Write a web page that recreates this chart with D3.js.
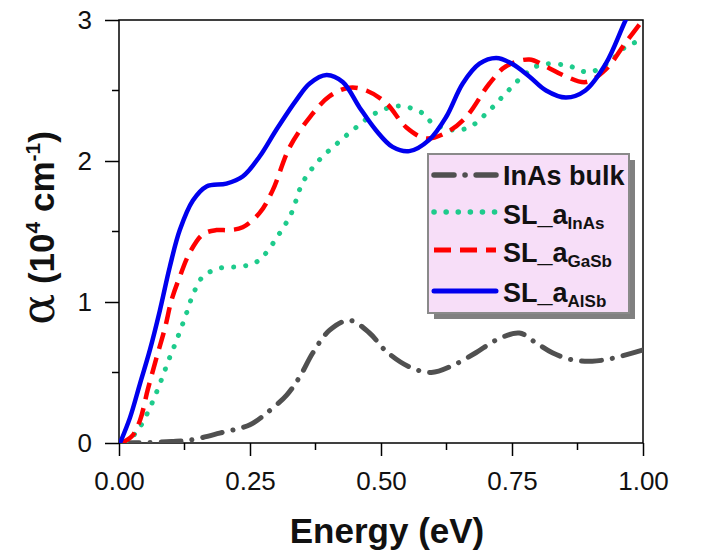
<!DOCTYPE html>
<html><head><meta charset="utf-8">
<script src="https://cdn.jsdelivr.net/npm/d3@7"></script>
<style>body{margin:0;background:#fff}svg{display:block}</style>
</head><body>
<script>
const xTicks = [0, 0.25, 0.5, 0.75, 1.0];
const yTicks = [0, 1, 2, 3];
const seriesNames = ["InAs bulk", "SL_a|InAs", "SL_a|GaSb", "SL_a|AlSb"];

const bulkE = [0,0.05,0.1,0.135,0.192,0.25,0.281,0.32,0.345,0.37,0.402,0.44,0.478,0.51,0.554,0.596,0.637,0.681,0.72,0.764,0.796,0.827,0.865,0.903,0.941,1.0];
const bulkA = [0,0.003,0.01,0.02,0.07,0.13,0.21,0.34,0.47,0.64,0.80,0.87,0.78,0.65,0.54,0.50,0.55,0.64,0.73,0.78,0.71,0.64,0.59,0.58,0.60,0.66];

const inasE = [0.013,0.036,0.059,0.078,0.094,0.11,0.126,0.141,0.16,0.192,0.225,0.255,0.274,0.307,0.329,0.351,0.383,0.415,0.453,0.49,0.535,0.579,0.598,0.637,0.669,0.707,0.738,0.77,0.802,0.853,0.897,0.935,0.967,1.0];
const inasA = [0,0.09,0.25,0.42,0.58,0.73,0.89,1.05,1.18,1.24,1.25,1.27,1.32,1.49,1.63,1.85,2.01,2.12,2.24,2.34,2.39,2.34,2.27,2.22,2.24,2.36,2.48,2.60,2.68,2.68,2.63,2.70,2.81,2.86];

const gasbE = [0.005,0.025,0.04,0.055,0.072,0.088,0.1,0.116,0.135,0.16,0.186,0.211,0.236,0.268,0.293,0.326,0.364,0.402,0.44,0.472,0.51,0.548,0.586,0.624,0.662,0.707,0.738,0.783,0.815,0.853,0.891,0.929,0.967,1.0];
const gasbA = [0,0.05,0.16,0.38,0.61,0.82,1.01,1.18,1.35,1.48,1.51,1.51,1.53,1.63,1.79,2.10,2.31,2.46,2.52,2.50,2.41,2.24,2.16,2.20,2.31,2.55,2.67,2.72,2.67,2.60,2.56,2.65,2.84,3.0];

const alsbE = [0.002,0.021,0.04,0.059,0.078,0.097,0.116,0.141,0.167,0.205,0.236,0.268,0.30,0.338,0.364,0.396,0.427,0.459,0.49,0.522,0.554,0.592,0.624,0.656,0.688,0.72,0.75,0.783,0.815,0.853,0.89,0.929,0.967,1.0];
const alsbA = [0,0.18,0.42,0.66,0.94,1.25,1.51,1.72,1.82,1.84,1.89,2.03,2.22,2.43,2.55,2.61,2.56,2.38,2.22,2.10,2.07,2.15,2.31,2.55,2.69,2.73,2.69,2.60,2.50,2.45,2.50,2.69,3.0,3.25];

const W = 702, H = 554;
const svg = d3.select("body").append("svg").attr("width", W).attr("height", H);
const x = d3.scaleLinear().domain([0, 1]).range([119, 643]);
const y = d3.scaleLinear().domain([0, 3]).range([443, 20]);

svg.append("defs").append("clipPath").attr("id", "clip")
  .append("rect").attr("x", 119).attr("y", 20).attr("width", 524).attr("height", 423);

const fontR = "'Liberation Sans', Arial, sans-serif";

// axes
const xAxis = d3.axisBottom(x).tickValues(xTicks).tickFormat(d3.format(".2f")).tickSize(13).tickPadding(16);
const gx = svg.append("g").attr("transform", "translate(0,443)").call(xAxis);
const yAxis = d3.axisLeft(y).tickValues(yTicks).tickFormat(d3.format("d")).tickSize(14).tickPadding(13);
const gy = svg.append("g").attr("transform", "translate(119,0)").call(yAxis);
[gx, gy].forEach(g => {
  g.select(".domain").remove();
  g.selectAll(".tick line").attr("stroke", "#000").attr("stroke-width", 1.5);
  g.selectAll("text").attr("font-family", fontR).attr("font-size", 26).attr("fill", "#111");
});
// minor ticks
const xMinor = [0.125, 0.375, 0.625, 0.875];
svg.append("g").selectAll("line").data(xMinor).join("line")
  .attr("x1", d => x(d)).attr("x2", d => x(d)).attr("y1", 443).attr("y2", 450)
  .attr("stroke", "#000").attr("stroke-width", 1.5);
const yMinor = [0.5, 1.5, 2.5];
svg.append("g").selectAll("line").data(yMinor).join("line")
  .attr("x1", 119).attr("x2", 112).attr("y1", d => y(d)).attr("y2", d => y(d))
  .attr("stroke", "#000").attr("stroke-width", 1.5);

// frame
svg.append("rect").attr("x", 119).attr("y", 20).attr("width", 524).attr("height", 423)
  .attr("fill", "none").attr("stroke", "#000").attr("stroke-width", 1.5);

// lines
const line = d3.line().x(d => x(d[0])).y(d => y(d[1])).curve(d3.curveCatmullRom.alpha(0.5));
const series = [
  {E: bulkE, A: bulkA, color: "#505050", dash: "20,11,0.1,11", cap: "round", w: 5},
  {E: inasE, A: inasA, color: "#1ecb8c", dash: "0.1,12", cap: "round", w: 5},
  {E: gasbE, A: gasbA, color: "#ff0000", dash: "17,9", cap: "butt", w: 4.5},
  {E: alsbE, A: alsbA, color: "#0000ee", dash: null, cap: "round", w: 4.5}
];
const plot = svg.append("g").attr("clip-path", "url(#clip)");
series.forEach(s => {
  plot.append("path").datum(s.E.map((e, i) => [e, s.A[i]]))
    .attr("d", line).attr("fill", "none").attr("stroke", s.color)
    .attr("stroke-width", s.w).attr("stroke-linecap", s.cap)
    .attr("stroke-dasharray", s.dash);
});

// legend
const lg = svg.append("g");
lg.append("rect").attr("x", 434).attr("y", 160).attr("width", 201).attr("height", 159).attr("fill", "#808080");
lg.append("rect").attr("x", 428).attr("y", 154).attr("width", 201).attr("height", 159)
  .attr("fill", "#f7def8").attr("stroke", "#8a8a8a").attr("stroke-width", 2);
const lineY = [175, 212, 250, 291];
const textY = [185, 224, 262, 302];
series.forEach((s, i) => {
  lg.append("line").attr("x1", 434).attr("x2", 496).attr("y1", lineY[i]).attr("y2", lineY[i])
    .attr("stroke", s.color).attr("stroke-width", s.w + 0.5).attr("stroke-linecap", s.cap)
    .attr("stroke-dasharray", s.dash);
  const parts = seriesNames[i].split("|");
  const t = lg.append("text").attr("x", 503).attr("y", textY[i])
    .attr("font-family", fontR).attr("font-weight", "bold").attr("font-size", 27).attr("fill", "#111");
  t.append("tspan").text(parts[0]);
  if (parts[1]) t.append("tspan").attr("font-size", 17).attr("dy", 5).text(parts[1]);
});

// axis titles
svg.append("text").attr("x", 387).attr("y", 543).attr("text-anchor", "middle")
  .attr("font-family", fontR).attr("font-weight", "bold").attr("font-size", 35).attr("fill", "#111")
  .text("Energy (eV)");
const yt = svg.append("text").attr("transform", "translate(54,228) rotate(-90)").attr("text-anchor", "middle")
  .attr("font-family", fontR).attr("font-weight", "bold").attr("font-size", 35).attr("fill", "#111");
yt.append("tspan").attr("font-size", 46).attr("font-family", "'DejaVu Serif', serif").attr("font-weight", "normal").text("α");
yt.append("tspan").text(" (10");
yt.append("tspan").attr("font-size", 21).attr("dy", -14).text("4");
yt.append("tspan").attr("dy", 14).text(" cm");
yt.append("tspan").attr("font-size", 21).attr("dy", -14).text("-1");
yt.append("tspan").attr("dy", 14).text(")");
</script>
</body></html>
